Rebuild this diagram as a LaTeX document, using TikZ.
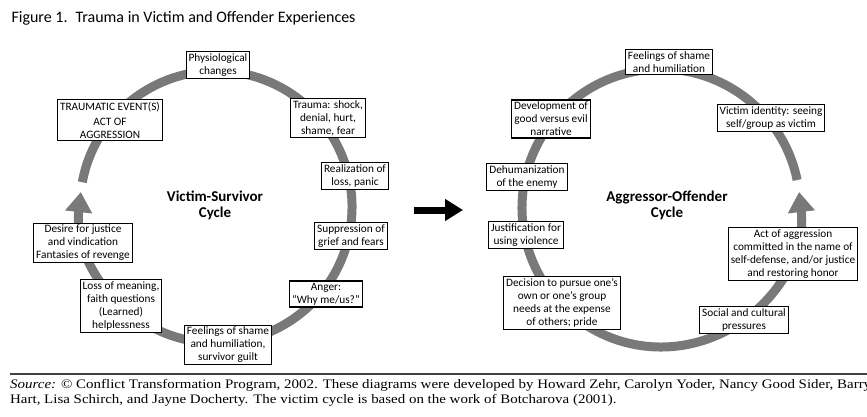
\documentclass[tikz,border=0pt]{standalone}
\usepackage{fontspec}
\setmainfont{Liberation Serif}[FakeStretch=1.15]
\newfontfamily\boxfont{Carlito}
\usetikzlibrary{arrows.meta, positioning}

\begin{document}
\begin{tikzpicture}[
    x=1pt, y=-1pt,
    stage/.style={rectangle, draw, line width=1.1pt, fill=white, align=center,
                  inner xsep=2.5pt, inner ysep=2pt, font=\boxfont\fontsize{11.3}{13}\selectfont},
    cyclename/.style={align=center, font=\boxfont\bfseries\fontsize{15}{16}\selectfont},
    ring/.style={draw=gray!95!black, line width=9pt},
    ringarr/.style={ring, -{Triangle[width=26pt, length=20pt]}},
    bigarr/.style={line width=7pt, -{Triangle[width=21pt, length=18pt]}}
]
    \useasboundingbox (0,0) rectangle (867,417);

    % Titel
    \node[anchor=west, font=\boxfont\fontsize{16}{18}\selectfont] (title) at (8,18)
        {Figure 1.\enspace Trauma in Victim and Offender Experiences};

    % Ringe
    \coordinate (ctrL) at (216,207);
    \coordinate (ctrR) at (661,208);
    \draw[ringarr] (ctrL) ++(169.5:136pt) arc[start angle=169.5, end angle=-186.3, radius=136pt];
    \draw[ringarr] (ctrR) ++(11.6:139pt) arc[start angle=11.6, end angle=366.6, radius=139pt];

    % Victim-Survivor-Zyklus
    \node[cyclename] (nameL) at (215,205) {Victim-Survivor\\Cycle};
    \node[stage] (phys)   at (218,65)  {Physiological\\changes};
    \node[stage] (trev)   at (110,120) {TRAUMATIC EVENT(S)\\[2pt]ACT OF\\AGGRESSION};
    \node[stage] (trauma) at (328,118) {Trauma: shock,\\denial, hurt,\\shame, fear};
    \node[stage] (realiz) at (355,176) {Realization of\\loss, panic};
    \node[stage] (suppr)  at (351,236) {Suppression of\\grief and fears};
    \node[stage] (anger)  at (326,294) {Anger:\\“Why me/us?”};
    \node[stage] (shameL) at (228,345) {Feelings of shame\\and humiliation,\\survivor guilt};
    \node[stage] (lossm)  at (121,306) {Loss of meaning,\\faith questions\\(Learned)\\helplessness};
    \node[stage] (desire) at (83,243)  {Desire for justice\\and vindication\\Fantasies of revenge};

    % Aggressor-Offender-Zyklus
    \node[cyclename] (nameR) at (667,205) {Aggressor-Offender\\Cycle};
    \node[stage] (shameR)   at (669,62)  {Feelings of shame\\and humiliation};
    \node[stage] (victid)   at (771,118) {Victim identity: seeing\\self/group as victim};
    \node[stage] (goodevil) at (551,119) {Development of\\good versus evil\\narrative};
    \node[stage] (dehum)    at (527,177) {Dehumanization\\of the enemy};
    \node[stage] (justif)   at (526,235) {Justification for\\using violence};
    \node[stage] (decis)    at (562,303) {Decision to pursue one’s\\own or one’s group\\needs at the expense\\of others; pride};
    \node[stage] (social)   at (744,320) {Social and cultural\\pressures};
    \node[stage] (actagg)   at (793,254) {Act of aggression\\committed in the name of\\self-defense, and/or justice\\and restoring honor};

    % Pfeil zwischen den Zyklen
    \coordinate (arrA) at (414,210);
    \coordinate (arrB) at (463,210);
    \draw[bigarr] (arrA) -- (arrB);

    % Quelle
    \coordinate (ruleA) at (10,374);
    \coordinate (ruleB) at (867,374);
    \draw[line width=1.8pt, black!75] (ruleA) -- (ruleB);
    \node[anchor=north west, align=left, inner sep=0pt,
          font=\fontsize{13}{15}\selectfont] (source) at (10,379)
        {\textit{Source:} © Conflict Transformation Program, 2002. These diagrams were developed by Howard Zehr, Carolyn Yoder, Nancy Good Sider, Barry\\
         Hart, Lisa Schirch, and Jayne Docherty. The victim cycle is based on the work of Botcharova (2001).};
\end{tikzpicture}
\end{document}
